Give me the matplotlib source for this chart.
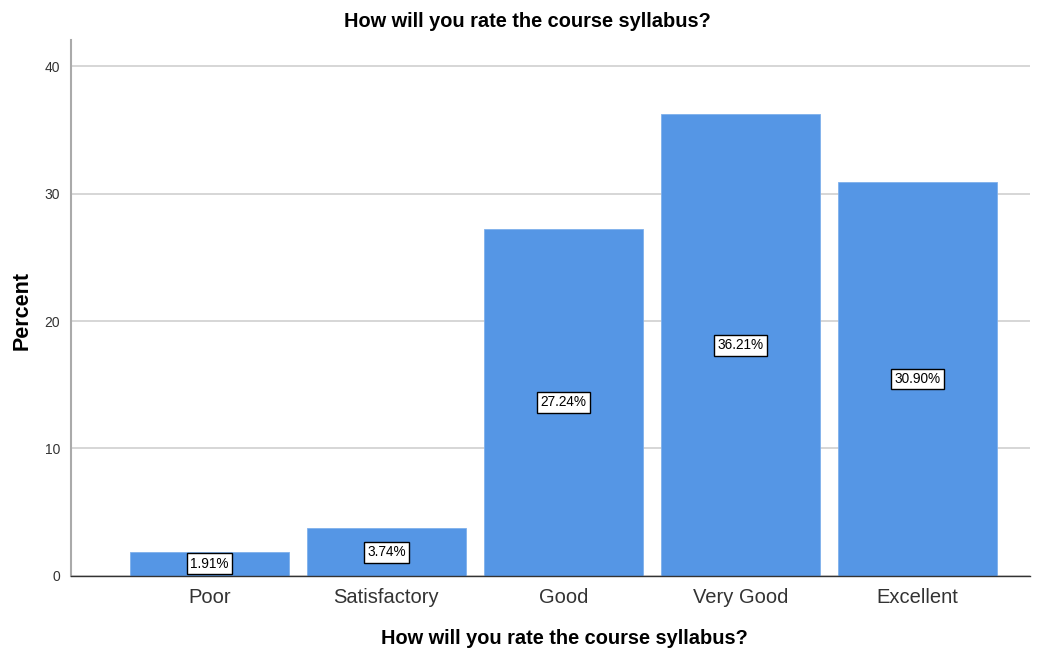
import matplotlib
matplotlib.use("Agg")
import matplotlib.pyplot as plt

categories = ["Poor", "Satisfactory", "Good", "Very Good", "Excellent"]
percent = [1.91, 3.74, 27.24, 36.21, 30.90]
yticks = [0, 10, 20, 30, 40]
title = "How will you rate the course syllabus?"

plt.rcParams['font.family'] = ['Liberation Sans', 'DejaVu Sans']

fig = plt.figure(figsize=(10.45, 6.52), dpi=100)
ax = fig.add_axes([0.068, 0.1166, 0.9176, 0.822])

x = list(range(len(categories)))
bars = ax.bar(x, percent, width=0.9, color='#5596e5', edgecolor='#7fb0ec', linewidth=0.6, zorder=2)

# value labels in the middle of each bar
for xi, v in zip(x, percent):
    ax.text(xi, v / 2, f"{v:.2f}%", ha='center', va='center', fontsize=9.8, zorder=3,
            bbox=dict(boxstyle='square,pad=0.25', facecolor='white', edgecolor='black', linewidth=1))

ax.set_xlim(-0.782, 4.636)
ax.set_ylim(0, 42.04)
ax.set_yticks(yticks)
ax.set_xticks(x)
ax.set_xticklabels(categories, fontsize=14.5, color='#333333')
ax.tick_params(axis='x', length=0, pad=9)
ax.tick_params(axis='y', length=0, labelsize=10, labelcolor='#333333', pad=8)

ax.yaxis.grid(True, color='#d0d0d0', linewidth=1.2, zorder=0)
ax.set_axisbelow(True)

ax.spines['top'].set_visible(False)
ax.spines['right'].set_visible(False)
ax.spines['left'].set_color('#aaaaaa')
ax.spines['left'].set_linewidth(1.5)
ax.spines['bottom'].set_color('#333333')
ax.spines['bottom'].set_linewidth(1)

fig.text(0.5048, 1 - 12 / 652, title, ha='center', va='top', fontsize=14.4, fontweight='bold')
ax.set_xlabel(title, fontsize=14.4, fontweight='bold')
ax.xaxis.set_label_coords(0.5146, -0.099)
ax.set_ylabel("Percent", fontsize=15.5, fontweight='bold')
ax.yaxis.set_label_coords(-0.040, 0.495)

fig.savefig("out.png", dpi=100)
